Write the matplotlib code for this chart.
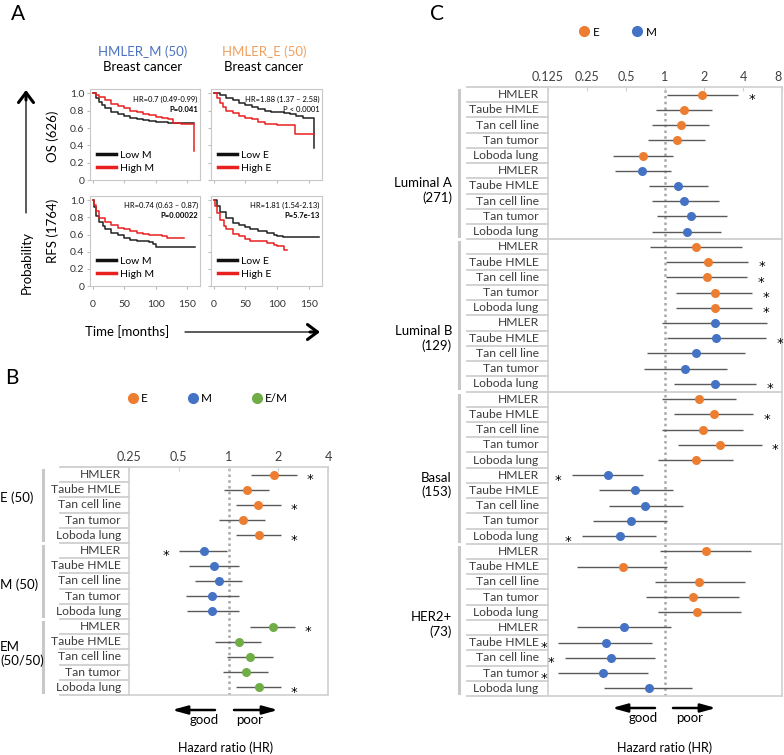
import matplotlib
matplotlib.use("Agg")
import matplotlib.pyplot as plt
import matplotlib.transforms as mtransforms
from matplotlib.lines import Line2D
from matplotlib.patches import FancyArrowPatch
import numpy as np

plt.rcParams['font.family'] = ['Lato', 'DejaVu Sans']

# ---------------- data: panel A (Kaplan-Meier) ----------------
os_low_m_t = [0, 5, 10, 15, 20, 30, 40, 50, 60, 70, 80, 90, 100, 120, 140, 160]
os_low_m_s = [1.0, 0.95, 0.90, 0.86, 0.83, 0.79, 0.76, 0.74, 0.72, 0.70, 0.69, 0.68, 0.67, 0.66, 0.66, 0.66]
os_high_m_t = [0, 5, 10, 20, 30, 40, 50, 60, 70, 80, 90, 100, 110, 120, 128, 140, 155, 160]
os_high_m_s = [1.0, 0.98, 0.96, 0.92, 0.88, 0.85, 0.83, 0.80, 0.78, 0.76, 0.75, 0.73, 0.71, 0.70, 0.66, 0.65, 0.65, 0.33]
os_low_e_t = [0, 10, 20, 30, 40, 50, 60, 70, 80, 90, 100, 110, 120, 130, 140, 150, 158]
os_low_e_s = [1.0, 0.98, 0.95, 0.92, 0.89, 0.86, 0.84, 0.82, 0.80, 0.79, 0.78, 0.77, 0.76, 0.74, 0.72, 0.71, 0.37]
os_high_e_t = [0, 5, 10, 15, 20, 30, 40, 50, 60, 70, 80, 90, 100, 110, 120, 127, 140, 158]
os_high_e_s = [1.0, 0.95, 0.89, 0.84, 0.80, 0.77, 0.74, 0.72, 0.70, 0.67, 0.645, 0.645, 0.64, 0.64, 0.64, 0.53, 0.53, 0.53]
rfs_low_m_t = [0, 3, 6, 10, 16, 20, 30, 40, 50, 60, 70, 80, 90, 95, 100, 120, 140, 162]
rfs_low_m_s = [1.0, 0.92, 0.82, 0.75, 0.70, 0.67, 0.62, 0.59, 0.56, 0.54, 0.53, 0.52, 0.51, 0.49, 0.46, 0.46, 0.46, 0.46]
rfs_high_m_t = [0, 3, 6, 11, 20, 30, 40, 50, 60, 70, 80, 90, 100, 110, 118, 144]
rfs_high_m_s = [1.0, 0.95, 0.88, 0.79, 0.75, 0.71, 0.68, 0.66, 0.64, 0.62, 0.61, 0.60, 0.59, 0.58, 0.56, 0.56]
rfs_low_e_t = [0, 5, 10, 20, 31, 40, 50, 57, 70, 83, 94, 100, 109, 166]
rfs_low_e_s = [1.0, 0.93, 0.86, 0.79, 0.74, 0.71, 0.685, 0.67, 0.64, 0.62, 0.59, 0.58, 0.57, 0.57]
rfs_high_e_t = [0, 3, 5, 10, 16, 20, 31, 40, 50, 57, 70, 83, 94, 99, 110, 115]
rfs_high_e_s = [1.0, 0.93, 0.85, 0.77, 0.70, 0.66, 0.61, 0.58, 0.55, 0.53, 0.52, 0.505, 0.48, 0.47, 0.42, 0.42]

km_hr_text = ["HR=0.7 (0.49-0.99)", "HR=1.88 (1.37 \u2013 2.58)", "HR=0.74 (0.63 \u2013 0.87)", "HR=1.81 (1.54-2.13)"]
km_p_text = ["P=0.041", "P < 0.0001", "P=0.00022", "P=5.7e-13"]
km_p_bold = [True, False, True, True]

# ---------------- data: panel B ----------------
cohorts = ["HMLER", "Taube HMLE", "Tan cell line", "Tan tumor", "Loboda lung"]
b_labels = cohorts * 3
b_hr = [1.88, 1.30, 1.50, 1.22, 1.52,
        0.71, 0.82, 0.87, 0.80, 0.80,
        1.86, 1.16, 1.34, 1.28, 1.52]
b_lo = [1.37, 0.94, 1.11, 0.88, 1.11,
        0.50, 0.58, 0.63, 0.55, 0.56,
        1.35, 0.83, 0.98, 0.93, 1.11]
b_hi = [2.58, 1.76, 2.08, 1.66, 2.08,
        0.98, 1.16, 1.20, 1.16, 1.15,
        2.53, 1.57, 1.85, 1.73, 2.07]
b_sig = [1, 0, 1, 0, 1,
         -1, 0, 0, 0, 0,
         1, 0, 0, 0, 1]
b_kind = ["E"] * 5 + ["M"] * 5 + ["E/M"] * 5
b_groups = ["E (50)", "M (50)", "EM\n(50/50)"]
b_ticks = [0.25, 0.5, 1, 2, 4]
b_ticklabels = ["0.25", "0.5", "1", "2", "4"]

# ---------------- data: panel C ----------------
c_labels = cohorts * 8
c_hr = [1.93, 1.40, 1.32, 1.23, 0.68, 0.67, 1.27, 1.40, 1.59, 1.48,
        1.74, 2.15, 2.11, 2.42, 2.44, 2.44, 2.49, 1.72, 1.42, 2.44,
        1.84, 2.40, 1.97, 2.64, 1.74, 0.36, 0.59, 0.70, 0.55, 0.45,
        2.07, 0.47, 1.84, 1.65, 1.77, 0.48, 0.35, 0.38, 0.33, 0.75]
c_lo = [1.04, 0.85, 0.79, 0.74, 0.40, 0.41, 0.75, 0.79, 0.86, 0.79,
        0.76, 1.02, 1.02, 1.22, 1.22, 0.94, 1.04, 0.72, 0.69, 1.17,
        0.94, 1.18, 0.94, 1.27, 0.88, 0.19, 0.31, 0.37, 0.28, 0.23,
        0.92, 0.21, 0.83, 0.71, 0.88, 0.21, 0.15, 0.17, 0.15, 0.34]
c_hi = [3.65, 2.30, 2.17, 2.03, 1.16, 1.12, 2.13, 2.59, 3.00, 2.70,
        3.96, 4.35, 4.27, 4.66, 4.72, 6.18, 6.07, 4.15, 3.00, 5.03,
        3.54, 4.81, 3.98, 5.56, 3.32, 0.68, 1.16, 1.38, 1.04, 0.85,
        4.59, 1.04, 4.15, 3.75, 3.84, 1.11, 0.79, 0.84, 0.74, 1.62]
c_sig = [1, 0, 0, 0, 0, 0, 0, 0, 0, 0,
         0, 1, 1, 1, 1, 0, 1, 0, 0, 1,
         0, 1, 0, 1, 0, -1, 0, 0, 0, -1,
         0, 0, 0, 0, 0, 0, -1, -1, -1, 0]
c_kind = (["E"] * 5 + ["M"] * 5) * 4
c_groups = ["Luminal A\n(271)", "Luminal B\n(129)", "Basal\n(153)", "HER2+\n(73)"]
c_ticks = [0.125, 0.25, 0.5, 1, 2, 4, 8]
c_ticklabels = ["0.125", "0.25", "0.5", "1", "2", "4", "8"]

colors = {"E": "#ED7D31", "M": "#4472C4", "E/M": "#70AD47"}

# ---------------- layout helpers (pixel -> figure fraction) ----------------
W, H = 784, 755
fig = plt.figure(figsize=(W / 100, H / 100), dpi=100)


def box(x0, y0, x1, y1):
    return [x0 / W, 1 - y1 / H, (x1 - x0) / W, (y1 - y0) / H]


def fx(x):
    return x / W


def fy(y):
    return 1 - y / H


def arrow(x0, y0, x1, y1, style, lw, ms):
    fig.add_artist(FancyArrowPatch((fx(x0), fy(y0)), (fx(x1), fy(y1)), transform=fig.transFigure,
                                   arrowstyle=style, lw=lw, color='black', mutation_scale=ms,
                                   shrinkA=0, shrinkB=0))


# ---------------- panel A ----------------
km = [
    (box(90, 89, 200, 180), os_low_m_t, os_low_m_s, os_high_m_t, os_high_m_s, "M"),
    (box(211, 89, 322, 180), os_low_e_t, os_low_e_s, os_high_e_t, os_high_e_s, "E"),
    (box(90, 196, 200, 286), rfs_low_m_t, rfs_low_m_s, rfs_high_m_t, rfs_high_m_s, "M"),
    (box(211, 196, 322, 286), rfs_low_e_t, rfs_low_e_s, rfs_high_e_t, rfs_high_e_s, "E"),
]
for i, (rect, lt, ls, ht, hs, tag) in enumerate(km):
    ax = fig.add_axes(rect)
    ax.step(lt, ls, where='post', color='#222222', lw=1.1)
    ax.step(ht, hs, where='post', color='#e8201f', lw=1.1)
    ax.set_xlim(-4, 170)
    ax.set_ylim(0, 1.05)
    ax.set_xticks([0, 50, 100, 150])
    ax.set_yticks([0, 0.2, 0.4, 0.6, 0.8, 1.0])
    ax.set_yticklabels(["0", "0.2", "0.4", "0.6", "0.8", "1.0"])
    ax.tick_params(length=2, color='#bbbbbb', labelsize=7.5, labelcolor='#333333', pad=2)
    if i % 2 == 1:
        ax.tick_params(labelleft=False)
    if i < 2:
        ax.tick_params(labelbottom=False)
    else:
        ax.tick_params(axis='x', pad=8)
    for s in ax.spines.values():
        s.set_color('#c8c8c8')
    ax.text(0.98, 0.89, km_hr_text[i], transform=ax.transAxes, ha='right', va='center', fontsize=5.5)
    ax.text(0.98, 0.78, km_p_text[i], transform=ax.transAxes, ha='right', va='center', fontsize=5.5,
            fontweight='bold' if km_p_bold[i] else 'normal')
    handles = [Line2D([], [], color='#111111', lw=2.5), Line2D([], [], color='#e8201f', lw=2.5)]
    ax.legend(handles, ["Low " + tag, "High " + tag], loc='lower left', frameon=False, fontsize=7.5,
              handlelength=1.8, handletextpad=0.4, labelspacing=0.35, borderaxespad=0.3)

fig.text(fx(18), fy(14), "A", fontsize=15, ha='center', va='center')
fig.text(fx(143), fy(52), "HMLER_M (50)", color='#4a72c0', fontsize=9.5, ha='center', va='center')
fig.text(fx(143), fy(67), "Breast cancer", fontsize=9.5, ha='center', va='center')
fig.text(fx(264), fy(52), "HMLER_E (50)", color='#f0a060', fontsize=9.5, ha='center', va='center')
fig.text(fx(264), fy(67), "Breast cancer", fontsize=9.5, ha='center', va='center')
fig.text(fx(53), fy(136), "OS (626)", rotation=90, fontsize=9.5, ha='center', va='center')
fig.text(fx(53), fy(231), "RFS (1764)", rotation=90, fontsize=9.5, ha='center', va='center')
fig.text(fx(27), fy(262), "Probability", rotation=90, fontsize=9.5, ha='center', va='center')
fig.text(fx(127), fy(332), "Time [months]", fontsize=9.5, ha='center', va='center')
# thin shafts with heavy chevron heads
arrow(26, 213, 26, 92, '-', 0.9, 10)
arrow(26, 100, 26, 90, '->,head_length=0.6,head_width=0.45', 2.2, 12)
arrow(185, 332, 318, 332, '-', 0.9, 10)
arrow(310, 332, 320, 332, '->,head_length=0.6,head_width=0.45', 2.2, 12)


# ---------------- forest plots ----------------
def forest(rect, labels, hr, lo, hi, sig, kind, xlim, ticks, ticklabels, star_fac, seps_across):
    ax = fig.add_axes(rect)
    n = len(hr)
    rows = np.arange(n)
    ax.axvline(1, color='#a8a8a8', ls=(0, (1, 1.3)), lw=1.8, zorder=1)
    for r in rows:
        ax.errorbar(hr[r], r, xerr=[[hr[r] - lo[r]], [hi[r] - hr[r]]], fmt='o', color=colors[kind[r]],
                    ecolor='#5a5a5a', elinewidth=1.0, capsize=3.5, capthick=1.0, markersize=6.5,
                    markeredgewidth=0, zorder=3)
        if sig[r] != 0:
            sx = hi[r] * star_fac if sig[r] == 1 else lo[r] / star_fac
            ax.text(sx, r + 0.32, "*", ha='center', va='center', fontsize=9.5,
                    family='DejaVu Sans', clip_on=False)
    ax.set_xscale('log', base=2)
    ax.set_xlim(*xlim)
    ax.set_ylim(n - 0.5, -0.5)
    ax.xaxis.tick_top()
    ax.set_xticks(ticks)
    ax.set_xticklabels([])
    ax.minorticks_off()
    ax.set_yticks([])
    ax.tick_params(axis='x', direction='in', length=3, color='#d0d0d0')
    tx = mtransforms.blended_transform_factory(ax.transData, ax.transAxes)
    for k, (t, lab) in enumerate(zip(ticks, ticklabels)):
        ha = 'right' if (k == len(ticks) - 1 and xlim[1] == 8) else 'center'
        ax.annotate(lab, xy=(t, 1), xycoords=tx, xytext=(0, 3), textcoords='offset points',
                    ha=ha, va='bottom', fontsize=9, color='#404040', annotation_clip=False)
    for s in ax.spines.values():
        s.set_color('#d0d0d0')
        s.set_linewidth(1.2)
    trans = mtransforms.blended_transform_factory(ax.transAxes, ax.transData)
    for r in rows:
        ax.text(-0.04, r, labels[r], transform=trans, ha='right', va='center', fontsize=8.7,
                color='#3c3c3c')
    for r in range(n + 1):
        ax.plot([-0.345, 0], [r - 0.5, r - 0.5], transform=trans, color='#cfcfcf', lw=1.3, clip_on=False)
    for r in seps_across:
        ax.plot([0, 1], [r - 0.5, r - 0.5], transform=trans, color='#cfcfcf', lw=1.3, clip_on=False)
    return ax, trans


# panel B
axb, tb = forest(box(129, 467, 328, 695), b_labels, b_hr, b_lo, b_hi, b_sig, b_kind,
                 (0.25, 4), b_ticks, b_ticklabels, 2 ** (13 / 49.75), [])
b_label_rows = [1.55, 7.25, 11.8]
for g, (name, yr) in enumerate(zip(b_groups, b_label_rows)):
    axb.text(-129 / 199, yr, name, transform=tb, ha='left', va='center', fontsize=9.5)
    axb.plot([-0.43, -0.43], [g * 5 - 0.3, g * 5 + 4.3], transform=tb, color='#c8c8c8', lw=2.2, clip_on=False)

fig.text(fx(12), fy(378), "B", fontsize=15, ha='center', va='center')
fig.legend([Line2D([], [], ls='', marker='o', color=colors[k], markersize=7) for k in ["E", "M", "E/M"]],
           ["E", "M", "E/M"], ncol=3, loc='center', bbox_to_anchor=(fx(208), fy(399)), frameon=False,
           fontsize=8.5, handlelength=0.8, handletextpad=0.3, columnspacing=3.4)
arrow(215, 710, 172, 710, '-|>,head_length=0.9,head_width=0.25', 1.8, 10)
arrow(234, 710, 278, 710, '-|>,head_length=0.9,head_width=0.25', 1.8, 10)
fig.text(fx(204), fy(720), "good", fontsize=9.5, ha='center', va='center')
fig.text(fx(250), fy(720), "poor", fontsize=9.5, ha='center', va='center')
fig.text(fx(226), fy(748), "Hazard ratio (HR)", fontsize=9, ha='center', va='center')

# panel C
axc, tc = forest(box(548, 87, 782, 696), c_labels, c_hr, c_lo, c_hi, c_sig, c_kind,
                 (0.125, 8), c_ticks, c_ticklabels, 2 ** (14 / 39.3), [10, 20, 30])
c_label_rows = [6.3, 16.0, 25.65, 34.8]
for g, (name, yr) in enumerate(zip(c_groups, c_label_rows)):
    axc.text((452 - 548) / 234, yr, name, transform=tc, ha='right', va='center', fontsize=9.5,
             multialignment='right')
    axc.plot([(459 - 548) / 234] * 2, [g * 10 - 0.3, g * 10 + 9.3], transform=tc, color='#c8c8c8',
             lw=2.2, clip_on=False)

fig.text(fx(437), fy(14), "C", fontsize=15, ha='center', va='center')
fig.legend([Line2D([], [], ls='', marker='o', color=colors[k], markersize=7) for k in ["E", "M"]],
           ["E", "M"], ncol=2, loc='center', bbox_to_anchor=(fx(618), fy(32)), frameon=False,
           fontsize=8.5, handlelength=0.8, handletextpad=0.3, columnspacing=2.8)
arrow(655, 708, 612, 708, '-|>,head_length=0.9,head_width=0.25', 1.8, 10)
arrow(673, 708, 716, 708, '-|>,head_length=0.9,head_width=0.25', 1.8, 10)
fig.text(fx(643), fy(718), "good", fontsize=9.5, ha='center', va='center')
fig.text(fx(690), fy(718), "poor", fontsize=9.5, ha='center', va='center')
fig.text(fx(665), fy(748), "Hazard ratio (HR)", fontsize=9, ha='center', va='center')

fig.savefig("out.png", dpi=100)
